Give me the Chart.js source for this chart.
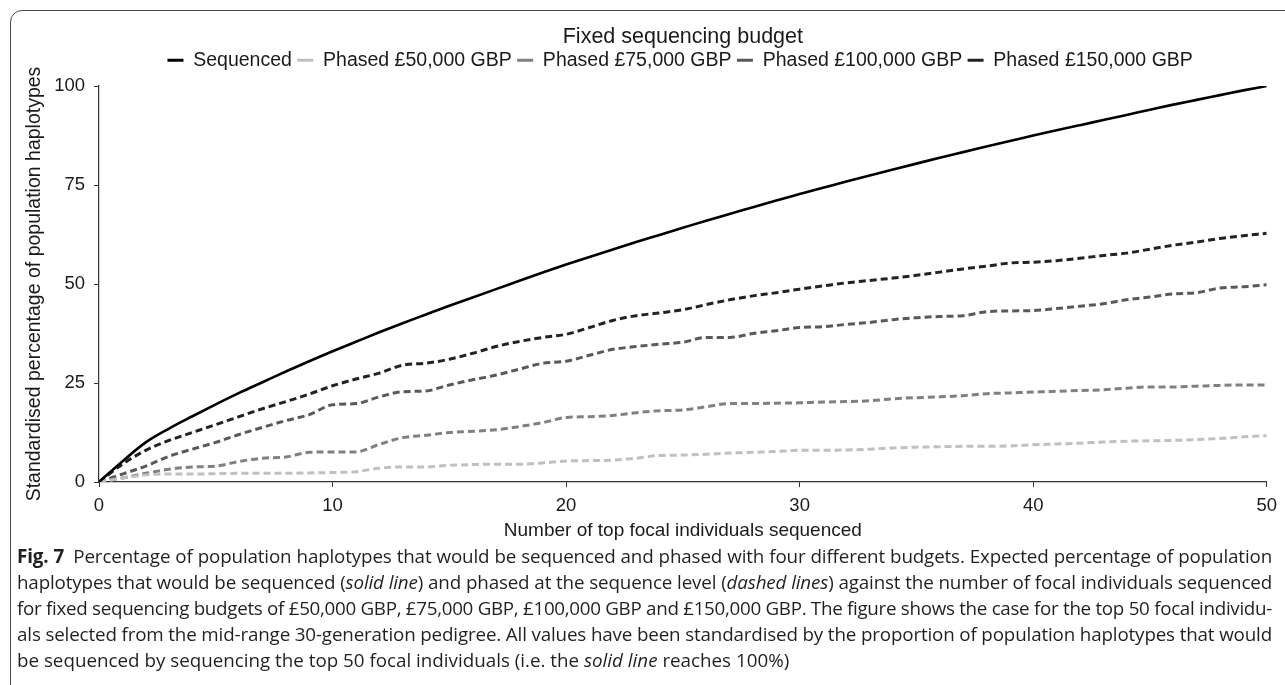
<!DOCTYPE html>
<html>
<head>
<meta charset="utf-8">
<script src="https://cdn.jsdelivr.net/npm/chart.js@4.4.1/dist/chart.umd.min.js"></script>
<style>
  html, body { margin: 0; padding: 0; background: #fff; }
  body { width: 1285px; height: 685px; overflow: hidden; position: relative; }
  .frame {
    position: absolute; left: 10px; top: 10px; width: 1400px; height: 800px;
    border: 1.5px solid #4a4a4a; border-top-left-radius: 12px;
  }
  .chart-wrap { position: absolute; left: 0; top: 0; width: 1285px; height: 546px; }
  .caption {
    position: absolute; left: 17px; top: 543px; width: 1255px;
    font-family: 'Open Sans', sans-serif; font-size: 18.8px; line-height: 26px; color: #231f20;
  }
  .caption div { white-space: nowrap; text-align: justify; text-align-last: justify; overflow: hidden; }
  .caption div.last { text-align-last: left; }
</style>
</head>
<body>
<div class="frame"></div>
<div class="chart-wrap"><canvas id="budgetChart"></canvas></div>
<div class="caption">
  <div><b>Fig. 7</b>&ensp;Percentage of population haplotypes that would be sequenced and phased with four different budgets. Expected percentage of population</div>
  <div>haplotypes that would be sequenced (<i>solid line</i>) and phased at the sequence level (<i>dashed lines</i>) against the number of focal individuals sequenced</div>
  <div>for fixed sequencing budgets of £50,000 GBP, £75,000 GBP, £100,000 GBP and £150,000 GBP. The figure shows the case for the top 50 focal individu-</div>
  <div>als selected from the mid-range 30-generation pedigree. All values have been standardised by the proportion of population haplotypes that would</div>
  <div class="last">be sequenced by sequencing the top 50 focal individuals (i.e. the <i>solid line</i> reaches 100%)</div>
</div>
<script>
// Number of top focal individuals sequenced
const focalCounts = [0, 1, 2, 3, 4, 5, 6, 7, 8, 9, 10, 11, 12, 13, 14, 15, 16, 17, 18, 19, 20,
  21, 22, 23, 24, 25, 26, 27, 28, 29, 30, 31, 32, 33, 34, 35, 36, 37, 38, 39, 40,
  41, 42, 43, 44, 45, 46, 47, 48, 49, 50];

// Standardised % of population haplotypes
const sequenced = [0, 5.2, 10, 13.5, 16.6, 19.6, 22.5, 25.2, 27.9, 30.5, 33.0,
  35.4, 37.8, 40.1, 42.3, 44.5, 46.6, 48.7, 50.8, 52.9, 54.9,
  56.8, 58.7, 60.6, 62.4, 64.2, 66.0, 67.7, 69.4, 71.1, 72.7,
  74.3, 75.9, 77.4, 78.9, 80.4, 81.9, 83.3, 84.7, 86.1, 87.5,
  88.8, 90.1, 91.4, 92.7, 94.0, 95.3, 96.5, 97.7, 98.9, 100];
const phased50k = [0, 1, 1.8, 2, 2, 2.1, 2.2, 2.2, 2.2, 2.3, 2.4,
  2.6, 3.5, 3.8, 3.8, 4.2, 4.4, 4.5, 4.5, 4.8, 5.3,
  5.4, 5.5, 6, 6.7, 6.8, 7, 7.3, 7.5, 7.7, 8,
  8, 8.1, 8.3, 8.6, 8.8, 8.9, 9, 9, 9.1, 9.4,
  9.6, 9.8, 10.1, 10.3, 10.4, 10.5, 10.7, 11, 11.4, 11.7];
const phased75k = [0, 1, 2.2, 3.2, 3.8, 4, 5.2, 6, 6.3, 7.5, 7.6,
  7.6, 9.5, 11.2, 11.8, 12.5, 12.8, 13.2, 14, 15, 16.3,
  16.5, 16.8, 17.5, 18, 18.2, 19, 19.8, 19.8, 19.9, 20,
  20.2, 20.3, 20.5, 21, 21.3, 21.5, 21.8, 22.3, 22.5, 22.7,
  22.9, 23.1, 23.3, 23.7, 24, 24, 24.2, 24.4, 24.5, 24.5];
const phased100k = [0, 2, 4, 6.5, 8.3, 10, 12, 13.8, 15.5, 17, 19.5,
  19.8, 21.5, 22.8, 23, 24.5, 25.8, 27, 28.5, 30, 30.5,
  32, 33.5, 34.2, 34.8, 35.3, 36.5, 36.5, 37.5, 38.2, 39,
  39.2, 39.8, 40.3, 41, 41.5, 41.8, 42, 43, 43.2, 43.3,
  43.8, 44.4, 45, 46, 46.7, 47.5, 47.8, 49, 49.3, 49.8];
const phased150k = [0, 4.5, 8, 10.5, 12.5, 14.5, 16.5, 18.5, 20.3, 22.2, 24.3,
  26, 27.5, 29.5, 30, 31, 32.5, 34.2, 35.5, 36.5, 37.3,
  39, 40.8, 42, 42.7, 43.5, 44.8, 46, 47, 47.8, 48.7,
  49.5, 50.3, 50.9, 51.5, 52.2, 53, 53.8, 54.5, 55.3, 55.5,
  55.9, 56.5, 57.2, 57.8, 58.8, 59.8, 60.6, 61.5, 62.2, 62.8];

const seriesNames = ['Sequenced', 'Phased £50,000 GBP', 'Phased £75,000 GBP', 'Phased £100,000 GBP', 'Phased £150,000 GBP'];
const seriesColors = ['#000000', '#c0c0c0', '#808080', '#595959', '#222222'];
const yTicks = [0, 25, 50, 75, 100];

const FONT = "'Liberation Sans', Arial, sans-serif";
const INK = '#1a1a1a';

const toPoints = values => values.map((v, i) => ({ x: focalCounts[i], y: v }));

const allSeries = [sequenced, phased50k, phased75k, phased100k, phased150k];
const datasets = allSeries.map((values, i) => ({
  label: seriesNames[i],
  data: toPoints(values),
  borderColor: seriesColors[i],
  backgroundColor: seriesColors[i],
  borderWidth: i === 0 ? 2.6 : 3,
  borderDash: i === 0 ? [] : [7, 4],
  pointRadius: 0,
  cubicInterpolationMode: 'monotone',
  fill: false
}));

const ctx = document.getElementById('budgetChart').getContext('2d');
new Chart(ctx, {
  type: 'line',
  data: { datasets },
  options: {
    responsive: true,
    maintainAspectRatio: false,
    animation: false,
    layout: { padding: { top: 26, left: 20, right: 15, bottom: 0 } },
    plugins: {
      // title and legend sit over the plot area only, so they centre on it
      title: {
        display: true,
        fullSize: false,
        text: 'Fixed sequencing budget',
        color: INK,
        font: { family: FONT, size: 21.5, weight: 'normal', lineHeight: 1 },
        padding: { top: 0, bottom: 3 }
      },
      // empty box that keeps a gap between the legend and the plot
      subtitle: {
        display: true,
        fullSize: false,
        text: '',
        weight: 500,
        font: { size: 1, lineHeight: 1 },
        padding: { top: 0, bottom: 5 }
      },
      legend: {
        position: 'top',
        fullSize: false,
        labels: {
          color: INK,
          font: { family: FONT, size: 19.5 },
          boxWidth: 16,
          boxHeight: 3,
          padding: 0,
          // legend keys are plain short bars, even for the dashed series
          generateLabels: chart => Chart.defaults.plugins.legend.labels.generateLabels(chart).map(item => ({
            ...item, text: item.text + ' ', lineDash: [], lineWidth: 0, fillStyle: item.strokeStyle
          }))
        }
      },
      tooltip: { enabled: false }
    },
    scales: {
      x: {
        type: 'linear',
        min: 0,
        max: 50,
        afterFit: scale => { scale.height = 64; },
        ticks: { stepSize: 10, color: INK, font: { family: FONT, size: 18.5 }, padding: 8 },
        grid: { drawOnChartArea: false, color: '#333', tickLength: 5 },
        border: { color: '#333', width: 1.2 },
        title: {
          display: true,
          text: 'Number of top focal individuals sequenced',
          color: INK,
          font: { family: FONT, size: 19 },
          padding: { top: 3, bottom: 4 }
        }
      },
      y: {
        min: 0,
        max: 100,
        afterBuildTicks: scale => { scale.ticks = yTicks.map(v => ({ value: v })); },
        afterFit: scale => { scale.width = 79; },
        ticks: { color: INK, font: { family: FONT, size: 18.5 }, padding: 9 },
        grid: { drawOnChartArea: false, color: '#333', tickLength: 5 },
        border: { color: '#333', width: 1.2 },
        title: {
          display: true,
          text: 'Standardised percentage of population haplotypes',
          color: INK,
          font: { family: FONT, size: 19.5 },
          padding: { top: 3, bottom: 0 }
        }
      }
    }
  }
});

// squeeze any caption line that is too wide for the column
document.querySelectorAll('.caption div').forEach(line => {
  let spacing = 0;
  while (line.scrollWidth > line.clientWidth && spacing > -1.5) {
    spacing -= 0.05;
    line.style.letterSpacing = spacing + 'px';
  }
});
</script>
</body>
</html>
